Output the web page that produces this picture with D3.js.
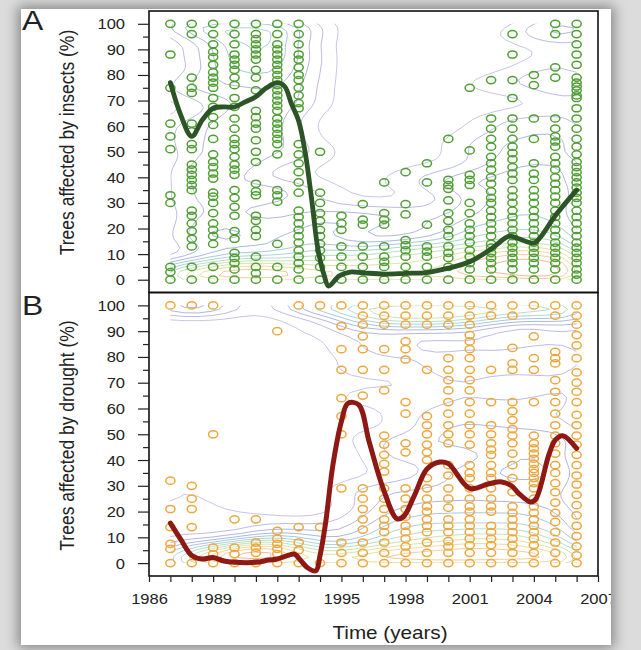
<!DOCTYPE html>
<html>
<head>
<meta charset="utf-8">
<script src="https://cdn.jsdelivr.net/npm/d3@7"></script>
<style>
body { margin: 0; width: 641px; height: 650px; overflow: hidden; position: relative; background: #dcdcdc; }
#card { position: absolute; left: 21px; top: 9px; width: 590px; height: 636px; background: #fff; box-shadow: 0 0 12px 3px rgba(0,0,0,0.4); }
svg { position: absolute; left: 0; top: 0; }
text { font-family: "Liberation Sans", Arial, sans-serif; fill: #222; }
</style>
</head>
<body>
<div id="card"></div>
<svg id="chart" width="641" height="650"></svg>
<script>
// survey years (one column of circles per year)
var years = [1987, 1988, 1989, 1990, 1991, 1992, 1993, 1994, 1995, 1996,
             1997, 1998, 1999, 2000, 2001, 2002, 2003, 2004, 2005, 2006];

// panel A: % trees affected by insects, per year
var insectValues = [
	[100, 88, 75, 61, 56, 51, 33, 30, 5, 3, 0],
	[100, 96, 79, 75, 73, 61, 58, 53, 51, 45, 43, 41, 39, 37, 35, 27, 25, 22, 19, 16, 13, 5, 0],
	[100, 96, 92, 89, 87, 84, 81, 79, 77, 75, 71, 67.5, 63.5, 60.5, 55, 49, 46, 44, 41.5, 39.5, 34, 32.5, 30, 26, 22, 19.5, 17, 14, 5, 0],
	[100, 96, 92, 88, 86, 84, 82, 79, 76, 71, 67.5, 63, 59, 55, 53, 51, 48, 45, 43, 41, 35, 32, 28.5, 25, 19, 16, 10.5, 8.5, 6.5, 4, 0],
	[100, 96, 94, 92, 90, 88, 86, 82, 79, 74, 66, 63.5, 61, 59, 54.5, 50, 46, 37.5, 34.5, 33, 25, 23, 19.5, 17, 9, 5, 2.5, 0],
	[100, 96, 92, 90, 88, 86, 84, 82, 80, 78, 76, 74, 72, 70, 68, 66, 63, 61, 59, 57, 55, 53, 49, 35, 33, 30.5, 14, 5, 0],
	[100, 96, 92, 88, 86, 83, 80, 78, 75, 72, 69, 67, 53, 49, 45.5, 42, 38, 34, 27, 24.5, 22, 19.5, 17, 14.5, 11.5, 9, 6.5, 4, 0],
	[50, 34, 30, 26, 23, 19.5, 17, 14, 11.5, 8.5, 5, 0],
	[25, 22, 19.5, 13, 9, 5, 0],
	[29.5, 23.5, 21.5, 13, 9, 5, 0],
	[38, 26, 23.5, 21.5, 13, 9, 7, 5, 0],
	[42, 29.5, 25.5, 15.5, 13.5, 11.5, 9, 5, 0],
	[45.5, 38, 21.5, 13, 11, 9, 5, 0],
	[55, 39, 37, 35.5, 31, 26, 23, 19.5, 17, 13, 10.5, 8.5, 5, 0],
	[75, 50.5, 41, 39, 37, 30, 26, 22, 19.5, 17, 14.5, 11.5, 9, 6.5, 4, 0],
	[78, 63, 59, 55, 52, 48, 45.5, 43, 40, 37.5, 34.5, 32, 30, 27, 24.5, 22, 19.5, 17, 14, 12.5, 10.5, 8.5, 6.5, 4, 0],
	[96, 88, 78, 71, 63, 59, 55, 52, 49.5, 47, 44, 41.5, 39, 35, 32.5, 30, 27, 24.5, 22, 19.5, 17, 14.5, 12.5, 10.5, 8.5, 6.5, 4, 0],
	[80, 76, 63, 55, 45.5, 41.5, 39, 35, 32.5, 30, 27, 24.5, 22, 19.5, 17, 14.5, 12.5, 10.5, 8.5, 6.5, 4, 0],
	[100, 96, 83, 79, 63, 59, 56, 54, 52, 48, 45.5, 43, 40, 37.5, 35, 32.5, 30, 27, 24.5, 22, 19.5, 17, 14.5, 12.5, 10.5, 8.5, 6.5, 4, 0],
	[100, 96, 92, 88, 84, 79, 77, 75.5, 74, 72, 71, 67, 63, 59, 55, 52, 49, 46, 44, 42, 40, 38, 36, 34, 32, 30, 27, 24.5, 22, 19.5, 17, 14.5, 12.5, 10.5, 8.5, 6.5, 4, 2, 0]
];

// panel B: % trees affected by drought, per year
var droughtValues = [
	[100, 32, 21, 14, 7.5, 5.5, 0],
	[100, 30, 25, 21, 14, 0],
	[100, 50, 6, 3.5, 0],
	[17, 6, 3.5, 0],
	[17, 8, 6, 4, 0],
	[90, 12.5, 9.5, 7.5, 5.5, 3.5, 0],
	[100, 14, 8, 5, 0],
	[100, 14, 0],
	[100, 92, 83, 75, 64, 57, 50, 29, 8, 4, 0],
	[100, 96, 92.5, 88, 83, 75, 65, 29, 25, 21, 17, 13, 8, 4, 0],
	[100, 96, 92.5, 83, 75, 67, 49.5, 46, 42, 38.5, 35.5, 29, 25, 21, 17, 14.5, 12, 8, 4, 0],
	[100, 96, 92.5, 86, 83, 79, 62.5, 58, 46.5, 43, 29, 25, 21, 18, 14.5, 12, 9.5, 6.5, 4, 0],
	[100, 96, 92.5, 75, 57, 53.5, 50, 46, 43, 40, 33, 29, 25, 22, 20, 17, 14.5, 12, 8, 4, 0],
	[100, 96, 92.5, 79.5, 75, 71, 67, 62.5, 58, 53.5, 50, 46.5, 38, 34, 29, 25, 21.5, 17, 14.5, 12, 8.5, 6.5, 4, 0],
	[100, 96, 92.5, 88.5, 86, 83, 79.5, 75, 71, 67, 62.5, 58, 53.5, 50, 46, 38, 35, 33, 29, 25, 22, 20, 17, 14.5, 12, 9.5, 7, 4, 0],
	[100, 96, 75, 62.5, 53.5, 50, 46.5, 44, 42, 38, 35, 33, 29, 25, 22, 20, 14.5, 12, 9.5, 7, 4, 0],
	[100, 96, 83.5, 77.5, 75, 62.5, 59, 55.5, 52, 49.5, 46.5, 42.5, 38, 33, 27.5, 22, 19.5, 17, 14.5, 12, 9.5, 7, 4, 0],
	[100, 88, 79.5, 75, 62.5, 49.5, 46.5, 44.5, 42.5, 40.5, 38.5, 36.5, 35, 33, 31, 29, 25, 22, 19.5, 17, 14.5, 12, 9.5, 7, 4, 0],
	[100, 96, 82, 79.5, 77.5, 71, 66.5, 62.5, 58, 53.5, 49.5, 46.5, 42.5, 38, 35, 31, 27.5, 23.5, 19.5, 16, 12, 8, 4, 0],
	[100, 96, 92.5, 88.5, 84.5, 79.5, 74, 70, 66.5, 62.5, 57.5, 53.5, 49.5, 46, 42, 38, 34, 30.5, 26.5, 22.5, 18.5, 14.5, 10.5, 6.5, 3, 0]
];

// smoothed trend lines
var insectLineYears = [1987, 1987.5, 1988, 1988.5, 1989, 1989.5, 1990, 1990.5, 1991, 1991.5, 1992, 1992.35, 1992.65, 1993,
	1993.3, 1993.6, 1993.9, 1994.2, 1994.4, 1994.9, 1995.4, 1996, 1997, 1998, 1999, 2000, 2001, 2002, 2002.85, 2003.3,
	2004, 2004.3, 2005, 2006];
var insectLineValues = [77, 64, 56, 62.5, 67, 67.5, 67.5, 69.5, 71.5, 75, 77, 75.5, 69, 62,
	50, 32, 12, 1.5, -2.5, 1.5, 3, 2.7, 2.2, 2.5, 2.8, 4.5, 7, 12, 17, 16,
	14.3, 16.5, 25, 35];

var droughtLineYears = [1987, 1987.5, 1988, 1988.5, 1989, 1989.5, 1990, 1991, 1991.6, 1992, 1992.5, 1992.8, 1993.1,
	1993.4, 1993.8, 1994, 1994.25, 1994.6, 1995, 1995.3, 1995.8, 1996.3, 1996.95, 1997.6, 1997.9, 1998.4, 1999,
	1999.6, 2000, 2001, 2001.9, 2002.5, 2002.95, 2003.3, 2003.85, 2004.1, 2004.7, 2005, 2005.35, 2006];
var droughtLineValues = [15.5, 9, 3, 1.6, 2.2, 0.8, 0.3, 0.3, 1.2, 1.6, 3, 3.5, 1,
	-1.7, -3, 3, 15, 38, 55, 62, 61.5, 47, 29, 17.2, 18, 26, 36.5,
	39.2, 38.6, 29, 30.8, 31.5, 30, 27, 23.7, 25, 42, 47.7, 49.4, 44.5];

// axis ticks
var xTickYears = [1986, 1987, 1988, 1989, 1990, 1991, 1992, 1993, 1994, 1995, 1996,
                  1997, 1998, 1999, 2000, 2001, 2002, 2003, 2004, 2005, 2006, 2007];
var xLabelYears = [1986, 1989, 1992, 1995, 1998, 2001, 2004, 2007];
var yTickValues = [0, 10, 20, 30, 40, 50, 60, 70, 80, 90, 100];
var yMinorTicks = [5, 15, 25, 35, 45, 55, 65, 75, 85, 95];

var STRETCH = 1.18; // the figure is a little wider than it is tall
var contourColors = ["#a29cdc", "#8a86d2", "#6f7cc8", "#6aa6cc", "#78c4ae", "#9ccf82", "#d2d468", "#f0b85a", "#ec8a4a"];

var x = d3.scaleLinear().domain([1986, 2007]).range([149, 598]);
var svg = d3.select("#chart");
var defs = svg.append("defs");

// everything is cut at the edge of the white card
defs.append("clipPath").attr("id", "card-clip")
	.append("rect").attr("x", 21).attr("y", 9).attr("width", 590).attr("height", 636);
var root = svg.append("g").attr("clip-path", "url(#card-clip)");

function stretched(g, str, tx, ty, size, anchor, rotate) {
	return g.append("text")
		.attr("transform", "translate(" + tx + "," + ty + ") scale(" + STRETCH + ",1)" + (rotate ? " rotate(-90)" : ""))
		.attr("font-size", size)
		.attr("text-anchor", anchor)
		.text(str);
}

function drawPanel(p) {
	var y = d3.scaleLinear().domain([-5, 105]).range([p.bottom, p.top]);
	var g = root.append("g");

	var pts = [];
	years.forEach(function (yr, i) {
		p.values[i].forEach(function (v) { pts.push([yr, v]); });
	});

	// many trees sit at 0 % or 100 %, so those rows count more in the density
	var rowWeight = function (v) {
		return 1 + 4 * Math.exp(-v / 6) + p.topWeight * Math.exp(-(100 - v) / 6);
	};

	// density contours, x squeezed so the kernel is wider across years
	var sx = 3.5;
	var x0 = x(1987), x1 = x(2006), yTop = y(100), yBot = y(0);
	var dens = d3.contourDensity()
		.x(function (d) { return (x(d[0]) - x0) / sx; })
		.y(function (d) { return y(d[1]) - yTop; })
		.weight(function (d) { return rowWeight(d[1]); })
		.size([(x1 - x0) / sx, yBot - yTop])
		.bandwidth(6.5)
		.thresholds(16)(pts);
	var color = d3.scaleSequential(d3.interpolateRgbBasis(contourColors))
		.domain(d3.extent(dens, function (d) { return d.value; }));

	defs.append("clipPath").attr("id", p.id + "-clip")
		.append("rect").attr("x", x0).attr("y", yTop).attr("width", x1 - x0).attr("height", yBot - yTop);

	g.append("g").attr("clip-path", "url(#" + p.id + "-clip)")
		.append("g").attr("transform", "translate(" + x0 + "," + yTop + ") scale(" + sx + ",1)")
		.selectAll("path").data(dens).join("path")
		.attr("d", d3.geoPath())
		.attr("fill", "none")
		.attr("stroke", function (d) { return color(d.value); })
		.attr("stroke-width", 0.75)
		.attr("stroke-opacity", 0.8)
		.attr("vector-effect", "non-scaling-stroke");

	// observations
	g.append("g").selectAll("ellipse").data(pts).join("ellipse")
		.attr("cx", function (d) { return x(d[0]); })
		.attr("cy", function (d) { return y(d[1]); })
		.attr("rx", 4.6).attr("ry", 3.6)
		.attr("fill", "none")
		.attr("stroke", p.dotColor)
		.attr("stroke-width", 1.5);

	// trend line
	var line = d3.line()
		.x(function (d) { return x(d[0]); })
		.y(function (d) { return y(d[1]); })
		.curve(d3.curveCatmullRom.alpha(0.5));
	g.append("path").datum(d3.zip(p.lineYears, p.lineValues))
		.attr("d", line)
		.attr("fill", "none")
		.attr("stroke", p.lineColor)
		.attr("stroke-width", p.lineWidth)
		.attr("stroke-linejoin", "round")
		.attr("stroke-linecap", "round");

	// frame
	g.append("rect")
		.attr("x", 149).attr("y", p.top)
		.attr("width", 598 - 149).attr("height", p.bottom - p.top)
		.attr("fill", "none").attr("stroke", "#111").attr("stroke-width", 1.6);

	// y axis
	var ax = g.append("g").attr("transform", "translate(149,0)")
		.call(d3.axisLeft(y).tickValues(yTickValues).tickSize(11).tickSizeOuter(0));
	ax.select(".domain").remove();
	ax.attr("font-size", 14).attr("font-family", null);
	ax.selectAll("line").attr("stroke", "#222").attr("stroke-width", 1.2);
	ax.selectAll("text").attr("x", null).attr("dy", null)
		.attr("transform", "translate(-24,5) scale(" + STRETCH + ",1)");

	var minor = g.append("g").attr("transform", "translate(149,0)")
		.call(d3.axisLeft(y).tickValues(yMinorTicks).tickSize(6).tickFormat(""));
	minor.select(".domain").remove();
	minor.selectAll("line").attr("stroke", "#222").attr("stroke-width", 1.2);

	stretched(g, p.title, 74, p.titleY, 17.5, "middle", true);
	stretched(g, p.letter, 22, p.letterY, 27, "start", false);

	return y;
}

drawPanel({
	id: "a", values: insectValues, top: 11, bottom: 292.5, topWeight: 1.5,
	lineYears: insectLineYears, lineValues: insectLineValues,
	dotColor: "#4f9f34", lineColor: "#2c5426", lineWidth: 4.8,
	title: "Trees affected by insects (%)", titleY: 142.5,
	letter: "A", letterY: 30
});

drawPanel({
	id: "b", values: droughtValues, top: 292.5, bottom: 576, topWeight: 3,
	lineYears: droughtLineYears, lineValues: droughtLineValues,
	dotColor: "#eca840", lineColor: "#8e1914", lineWidth: 5,
	title: "Trees affected by drought (%)", titleY: 435.5,
	letter: "B", letterY: 315
});

// time axis under panel B
var xa = root.append("g").attr("transform", "translate(0,576)")
	.call(d3.axisBottom(x).tickValues(xTickYears).tickSize(6).tickSizeOuter(0)
		.tickFormat(function (d) { return xLabelYears.indexOf(d) >= 0 ? d : ""; }));
xa.select(".domain").remove();
xa.attr("font-size", 14).attr("font-family", null);
xa.selectAll("line").attr("stroke", "#222").attr("stroke-width", 1.2);
xa.selectAll("text").attr("y", null).attr("dy", null)
	.attr("transform", "translate(0,27.5) scale(" + STRETCH + ",1)");

stretched(root, "Time (years)", 390, 639, 17.5, "middle", false);
</script>
</body>
</html>
